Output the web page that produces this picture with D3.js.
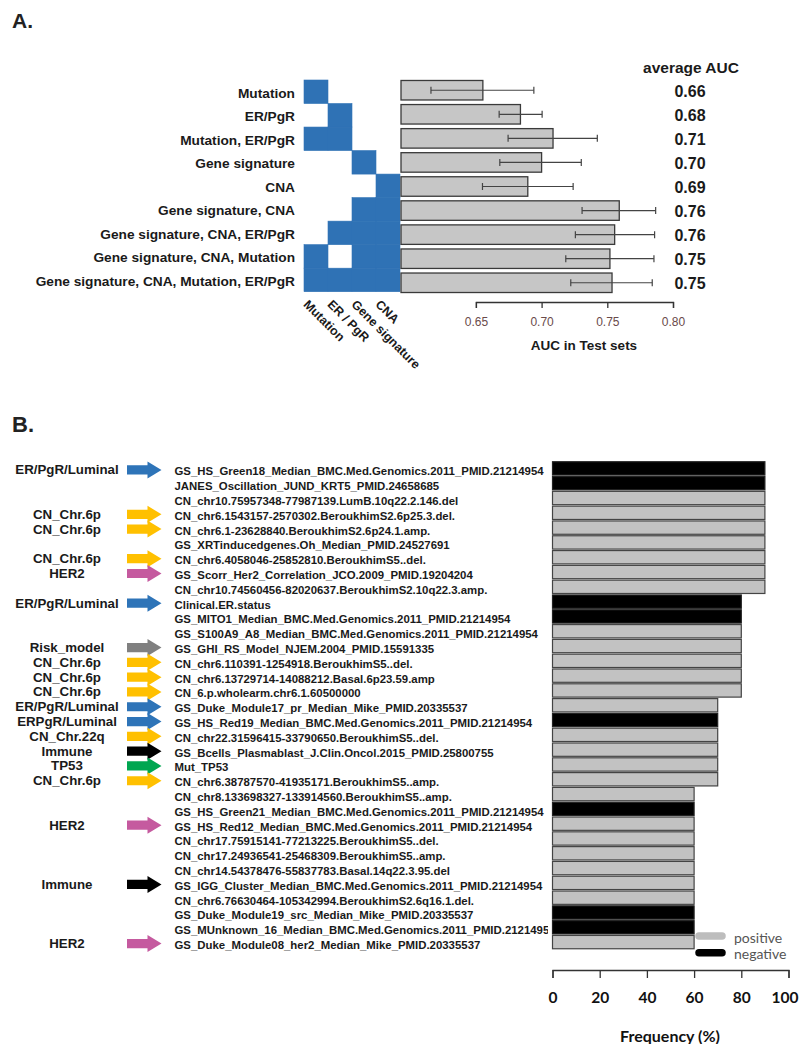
<!DOCTYPE html>
<html>
<head>
<meta charset="utf-8">
<script src="https://cdn.jsdelivr.net/npm/d3@7"></script>
<style>
  html, body { margin: 0; padding: 0; background: #fff; }
  svg { display: block; }
</style>
</head>
<body>
<svg id="chart" width="800" height="1044"></svg>
<script>
// ---------------- Panel A data ----------------
const comboLabels = [
  "Mutation", "ER/PgR", "Mutation, ER/PgR", "Gene signature", "CNA",
  "Gene signature, CNA", "Gene signature, CNA, ER/PgR",
  "Gene signature, CNA, Mutation", "Gene signature, CNA, Mutation, ER/PgR"
];
const featureNames = ["Mutation", "ER / PgR", "Gene signature", "CNA"];
// membership of each combination (rows) in each feature (columns)
const comboMembership = [
  [1,0,0,0],[0,1,0,0],[1,1,0,0],[0,0,1,0],[0,0,0,1],
  [0,0,1,1],[0,1,1,1],[1,0,1,1],[1,1,1,1]
];
const aucMean = [0.6553, 0.6839, 0.7087, 0.7000, 0.6895, 0.7591, 0.7556, 0.7520, 0.7536];
const aucLow  = [0.6158, 0.6677, 0.6745, 0.6682, 0.6550, 0.7308, 0.7257, 0.7184, 0.7222];
const aucHigh = [0.6941, 0.7004, 0.7424, 0.7302, 0.7240, 0.7868, 0.7860, 0.7855, 0.7842];
const aucLabels = ["0.66","0.68","0.71","0.70","0.69","0.76","0.76","0.75","0.75"];
const aucTicks = [0.65, 0.70, 0.75, 0.80];
const aucAxisStart = 0.593;

// ---------------- Panel B data ----------------
const featureLabels = [
  "GS_HS_Green18_Median_BMC.Med.Genomics.2011_PMID.21214954",
  "JANES_Oscillation_JUND_KRT5_PMID.24658685",
  "CN_chr10.75957348-77987139.LumB.10q22.2.146.del",
  "CN_chr6.1543157-2570302.BeroukhimS2.6p25.3.del.",
  "CN_chr6.1-23628840.BeroukhimS2.6p24.1.amp.",
  "GS_XRTinducedgenes.Oh_Median_PMID.24527691",
  "CN_chr6.4058046-25852810.BeroukhimS5..del.",
  "GS_Scorr_Her2_Correlation_JCO.2009_PMID.19204204",
  "CN_chr10.74560456-82020637.BeroukhimS2.10q22.3.amp.",
  "Clinical.ER.status",
  "GS_MITO1_Median_BMC.Med.Genomics.2011_PMID.21214954",
  "GS_S100A9_A8_Median_BMC.Med.Genomics.2011_PMID.21214954",
  "GS_GHI_RS_Model_NJEM.2004_PMID.15591335",
  "CN_chr6.110391-1254918.BeroukhimS5..del.",
  "CN_chr6.13729714-14088212.Basal.6p23.59.amp",
  "CN_6.p.wholearm.chr6.1.60500000",
  "GS_Duke_Module17_pr_Median_Mike_PMID.20335537",
  "GS_HS_Red19_Median_BMC.Med.Genomics.2011_PMID.21214954",
  "CN_chr22.31596415-33790650.BeroukhimS5..del.",
  "GS_Bcells_Plasmablast_J.Clin.Oncol.2015_PMID.25800755",
  "Mut_TP53",
  "CN_chr6.38787570-41935171.BeroukhimS5..amp.",
  "CN_chr8.133698327-133914560.BeroukhimS5..amp.",
  "GS_HS_Green21_Median_BMC.Med.Genomics.2011_PMID.21214954",
  "GS_HS_Red12_Median_BMC.Med.Genomics.2011_PMID.21214954",
  "CN_chr17.75915141-77213225.BeroukhimS5..del.",
  "CN_chr17.24936541-25468309.BeroukhimS5..amp.",
  "CN_chr14.54378476-55837783.Basal.14q22.3.95.del",
  "GS_IGG_Cluster_Median_BMC.Med.Genomics.2011_PMID.21214954",
  "CN_chr6.76630464-105342994.BeroukhimS2.6q16.1.del.",
  "GS_Duke_Module19_src_Median_Mike_PMID.20335537",
  "GS_MUnknown_16_Median_BMC.Med.Genomics.2011_PMID.21214954",
  "GS_Duke_Module08_her2_Median_Mike_PMID.20335537"
];
const frequency = [90,90,90,90,90,90,90,90,90, 80,80,80,80,80,80,80, 70,70,70,70,70,70,
                   60,60,60,60,60,60,60,60,60,60,60];
const direction = ["negative","negative","positive","positive","positive","positive","positive","positive","positive",
                   "negative","negative","positive","positive","positive","positive","positive",
                   "positive","negative","positive","positive","positive","positive",
                   "positive","negative","positive","positive","positive","positive","positive","positive",
                   "negative","negative","positive"];
// annotation arrows: row index, text, group
const annotationRows   = [0, 3, 4, 6, 7, 9, 12, 13, 14, 15, 16, 17, 18, 19, 20, 21, 24, 28, 32];
const annotationLabels = ["ER/PgR/Luminal","CN_Chr.6p","CN_Chr.6p","CN_Chr.6p","HER2","ER/PgR/Luminal",
                          "Risk_model","CN_Chr.6p","CN_Chr.6p","CN_Chr.6p","ER/PgR/Luminal","ERPgR/Luminal",
                          "CN_Chr.22q","Immune","TP53","CN_Chr.6p","HER2","Immune","HER2"];
const annotationGroups = ["luminal","cn","cn","cn","her2","luminal","risk","cn","cn","cn","luminal","luminal",
                          "cn","immune","tp53","cn","her2","immune","her2"];
const freqTicks = [0, 20, 40, 60, 80, 100];
const legendItems = ["positive", "negative"];

// ---------------- drawing ----------------
const svg = d3.select("#chart");
const sans = "'Liberation Sans', Arial, Helvetica, sans-serif";
const geo = "Lato, 'Open Sans', sans-serif";

// Panel letters
svg.append("text").attr("x", 12).attr("y", 28).text("A.")
  .attr("font-family", sans).attr("font-weight", "bold").attr("font-size", 21).attr("fill", "#222");
svg.append("text").attr("x", 12).attr("y", 432).text("B.")
  .attr("font-family", sans).attr("font-weight", "bold").attr("font-size", 22).attr("fill", "#222");

// ---- Panel A ----
const gA = svg.append("g");
const rowM = d3.scaleBand().domain(d3.range(comboLabels.length)).range([80, 291.7]);
const colM = d3.scaleBand().domain(d3.range(featureNames.length)).range([304, 400]);
const blue = "#2f72b5";

const cells = [];
comboMembership.forEach((r, i) => r.forEach((v, j) => { if (v) cells.push({i, j}); }));
gA.append("g").selectAll("rect").data(cells).join("rect")
  .attr("x", d => colM(d.j)).attr("y", d => rowM(d.i))
  .attr("width", colM.bandwidth()).attr("height", rowM.bandwidth())
  .attr("fill", blue).attr("stroke", blue).attr("stroke-width", 0.6);

gA.append("g").selectAll("text").data(comboLabels).join("text")
  .attr("x", 295).attr("y", (d, i) => rowM(i) + rowM.bandwidth() / 2 + 1.5)
  .attr("text-anchor", "end").attr("dominant-baseline", "central")
  .attr("font-family", sans).attr("font-weight", "bold").attr("font-size", 13.7).attr("fill", "#1a1a1a")
  .text(d => d);

gA.append("g").selectAll("text").data(featureNames).join("text")
  .attr("transform", (d, j) => `translate(${colM(j) + 5},${299}) rotate(45)`)
  .attr("text-anchor", "start").attr("dominant-baseline", "hanging")
  .attr("font-family", sans).attr("font-weight", "bold").attr("font-size", 12.5).attr("fill", "#1a1a1a")
  .text(d => d);

const xA = d3.scaleLinear().domain([aucAxisStart, 0.80]).range([401, 673]);
const barA = d3.scaleBand().domain(d3.range(comboLabels.length)).range([80, 293]).paddingInner(0.19).paddingOuter(0.02);

gA.append("g").selectAll("rect").data(aucMean).join("rect")
  .attr("x", xA(aucAxisStart)).attr("y", (d, i) => barA(i))
  .attr("width", d => xA(d) - xA(aucAxisStart)).attr("height", barA.bandwidth())
  .attr("fill", "#c6c6c6").attr("stroke", "#3a3a3a").attr("stroke-width", 1.3);

const eb = gA.append("g").attr("stroke", "#444").attr("stroke-width", 1.2);
aucMean.forEach((m, i) => {
  const cy = barA(i) + barA.bandwidth() / 2;
  eb.append("line").attr("x1", xA(aucLow[i])).attr("x2", xA(aucHigh[i])).attr("y1", cy).attr("y2", cy);
  eb.append("line").attr("x1", xA(aucLow[i])).attr("x2", xA(aucLow[i])).attr("y1", cy - 3.5).attr("y2", cy + 3.5);
  eb.append("line").attr("x1", xA(aucHigh[i])).attr("x2", xA(aucHigh[i])).attr("y1", cy - 3.5).attr("y2", cy + 3.5);
});

gA.append("text").attr("x", 691).attr("y", 67).attr("text-anchor", "middle").attr("dominant-baseline", "central")
  .attr("font-family", sans).attr("font-weight", "bold").attr("font-size", 15.5).attr("fill", "#1a1a1a")
  .text("average AUC");
gA.append("g").selectAll("text").data(aucLabels).join("text")
  .attr("x", 690).attr("y", (d, i) => barA(i) + barA.bandwidth() / 2 + 1)
  .attr("text-anchor", "middle").attr("dominant-baseline", "central")
  .attr("font-family", sans).attr("font-weight", "bold").attr("font-size", 16).attr("fill", "#1a1a1a")
  .text(d => d);

const axA = d3.scaleLinear().domain([aucTicks[0], aucTicks[aucTicks.length - 1]])
  .range([xA(aucTicks[0]), xA(aucTicks[aucTicks.length - 1])]);
const axisA = gA.append("g").attr("transform", "translate(0,302)")
  .call(d3.axisBottom(axA).tickValues(aucTicks).tickFormat(d3.format(".2f")).tickSize(6).tickPadding(9));
axisA.select(".domain").attr("stroke", "#333").attr("stroke-width", 1.3);
axisA.selectAll(".tick line").attr("stroke", "#333").attr("stroke-width", 1.3);
axisA.selectAll(".tick text").attr("font-family", sans).attr("font-size", 12).attr("fill", "#6a4a4a");
gA.append("text").attr("x", 584).attr("y", 345).attr("text-anchor", "middle").attr("dominant-baseline", "central")
  .attr("font-family", sans).attr("font-weight", "bold").attr("font-size", 13.5).attr("fill", "#1a1a1a")
  .text("AUC in Test sets");

// ---- Panel B ----
const gB = svg.append("g");
const rowB = d3.scaleBand().domain(d3.range(featureLabels.length)).range([461, 949.5]).paddingInner(0.1).paddingOuter(0.05);
const xB = d3.scaleLinear().domain([0, 100]).range([552.5, 788.5]);
const dirColor = d3.scaleOrdinal().domain(legendItems).range(["#c2c2c2", "#000000"]);
const dirStroke = d3.scaleOrdinal().domain(legendItems).range(["#444", "#222"]);
const groupColor = d3.scaleOrdinal()
  .domain(["luminal", "cn", "her2", "risk", "immune", "tp53"])
  .range(["#2e74b8", "#ffc000", "#c55a9f", "#808080", "#000000", "#00a651"]);

svg.append("defs").append("clipPath").attr("id", "labclip")
  .append("rect").attr("x", 0).attr("y", 440).attr("width", 548).attr("height", 520);

gB.append("g").attr("clip-path", "url(#labclip)").selectAll("text").data(featureLabels).join("text")
  .attr("x", 174.5).attr("y", (d, i) => rowB(i) + rowB.bandwidth() / 2 + 3)
  .attr("dominant-baseline", "central")
  .attr("font-family", sans).attr("font-weight", "bold").attr("font-size", 11.4).attr("fill", "#1a1a1a")
  .text(d => d);

gB.append("g").selectAll("rect").data(frequency).join("rect")
  .attr("x", xB(0)).attr("y", (d, i) => rowB(i))
  .attr("width", d => xB(d) - xB(0)).attr("height", rowB.bandwidth())
  .attr("fill", (d, i) => dirColor(direction[i])).attr("stroke", (d, i) => dirStroke(direction[i]))
  .attr("stroke-width", 1.2);

// arrows + annotation labels
const arrowPath = (x0, x1, cy) => {
  const head = 14, sh = 4.6, hh = 8.5;
  return `M${x0},${cy - sh}L${x1 - head},${cy - sh}L${x1 - head},${cy - hh}L${x1},${cy}L${x1 - head},${cy + hh}L${x1 - head},${cy + sh}L${x0},${cy + sh}Z`;
};
const ann = gB.append("g");
annotationRows.forEach((r, k) => {
  const cy = rowB(r) + rowB.bandwidth() / 2 + 1.5;
  ann.append("path").attr("d", arrowPath(127, 161.5, cy)).attr("fill", groupColor(annotationGroups[k]));
  ann.append("text").attr("x", 67).attr("y", cy).attr("text-anchor", "middle").attr("dominant-baseline", "central")
    .attr("font-family", sans).attr("font-weight", "bold").attr("font-size", 13.3).attr("fill", "#1a1a1a")
    .text(annotationLabels[k]);
});

// legend
const leg = gB.append("g");
legendItems.forEach((item, k) => {
  const cy = 936 + k * 16.7;
  leg.append("line").attr("x1", 699).attr("x2", 722).attr("y1", cy).attr("y2", cy)
    .attr("stroke", item === "positive" ? "#bdbdbd" : "#000").attr("stroke-width", 7.5).attr("stroke-linecap", "round");
  leg.append("text").attr("x", 734).attr("y", cy + 1).attr("dominant-baseline", "central")
    .attr("font-family", geo).attr("font-size", 14).attr("fill", "#555").text(item);
});

const axisB = gB.append("g").attr("transform", "translate(0,970)")
  .call(d3.axisBottom(xB).tickValues(freqTicks).tickSize(8).tickPadding(14));
axisB.select(".domain").attr("stroke", "#333").attr("stroke-width", 1.3);
axisB.selectAll(".tick line").attr("stroke", "#333").attr("stroke-width", 1.3);
axisB.selectAll(".tick text").attr("font-family", geo).attr("font-weight", "bold").attr("font-size", 15.5).attr("fill", "#111")
  .attr("dx", d => d === freqTicks[freqTicks.length - 1] ? -4 : 0);
gB.append("text").attr("x", 670).attr("y", 1035).attr("text-anchor", "middle").attr("dominant-baseline", "central")
  .attr("font-family", geo).attr("font-weight", "bold").attr("font-size", 16).attr("fill", "#111")
  .text("Frequency (%)");
</script>
</body>
</html>
